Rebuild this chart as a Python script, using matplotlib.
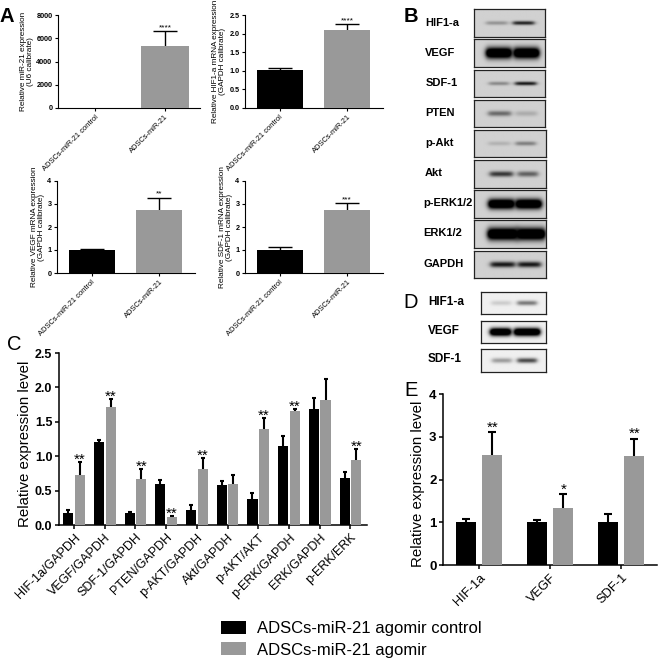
#!/usr/bin/env python3
"""Multi-panel figure: qPCR bars, western blots and blot quantification."""

import numpy as np
import matplotlib
matplotlib.use("Agg")
import matplotlib.pyplot as plt
from matplotlib.patches import Patch

W, H = 658, 659
BLACK = '#000000'
GRAY = '#999999'

# panel A
a_groups = ["ADSCs-miR-21 control", "ADSCs-miR-21"]
a_ylabels = ["Relative miR-21 expression\n(U6 calibrate)",
             "Relative HIF1-a mRNA expression\n(GAPDH calibrate)",
             "Relative VEGF mRNA expression\n(GAPDH calibrate)",
             "Relative SDF-1 mRNA expression\n(GAPDH calibrate)"]
a_values = [[1, 5330], [1.01, 2.11], [1.01, 2.73], [1.01, 2.75]]
a_tops = [[1, 6600], [1.07, 2.26], [1.04, 3.28], [1.11, 3.03]]
a_stars = ["****", "****", "**", "***"]
a_yticks = [[0, 2000, 4000, 6000, 8000],
            [0.0, 0.5, 1.0, 1.5, 2.0, 2.5],
            [0, 1, 2, 3, 4],
            [0, 1, 2, 3, 4]]

# panel C
c_labels = ["HIF-1a/GAPDH", "VEGF/GAPDH", "SDF-1/GAPDH", "PTEN/GAPDH", "p-AKT/GAPDH",
            "Akt/GAPDH", "p-AKT/AKT", "p-ERK/GAPDH", "ERK/GAPDH", "p-ERK/ERK"]
c_control = [0.18, 1.21, 0.17, 0.59, 0.22, 0.58, 0.38, 1.15, 1.69, 0.68]
c_control_top = [0.22, 1.24, 0.19, 0.65, 0.29, 0.64, 0.47, 1.30, 1.84, 0.77]
c_agomir = [0.73, 1.71, 0.67, 0.11, 0.81, 0.59, 1.39, 1.66, 1.82, 0.94]
c_agomir_top = [0.91, 1.83, 0.82, 0.13, 0.98, 0.73, 1.55, 1.68, 2.12, 1.10]
c_stars = ["**", "**", "**", "**", "**", "", "**", "**", "", "**"]

# panel E
e_labels = ["HIF-1a", "VEGF", "SDF-1"]
e_control = [1.0, 1.0, 1.0]
e_control_top = [1.07, 1.05, 1.20]
e_agomir = [2.57, 1.33, 2.55]
e_agomir_top = [3.10, 1.65, 2.95]
e_stars = ["**", "*", "**"]

# blots: label, lane strengths
b_labels = ["HIF1-a", "VEGF", "SDF-1", "PTEN", "p-Akt", "Akt", "p-ERK1/2", "ERK1/2", "GAPDH"]
b_left = [0.30, 1.0, 0.35, 0.50, 0.15, 0.75, 1.0, 1.0, 0.90]
b_right = [0.85, 1.0, 0.90, 0.18, 0.40, 0.55, 1.0, 1.0, 0.90]
d_labels = ["HIF1-a", "VEGF", "SDF-1"]
d_left = [0.15, 1.0, 0.35]
d_right = [0.50, 1.0, 0.70]

plt.rcParams['font.family'] = ['Liberation Sans', 'DejaVu Sans']

fig = plt.figure(figsize=(W / 100, H / 100), dpi=100)


def axes_px(left, top, right, bottom):
    return fig.add_axes([left / W, 1 - bottom / H, (right - left) / W, (bottom - top) / H])


def text_px(x, y, s, **kw):
    fig.text(x / W, 1 - y / H, s, va='center', **kw)


def style_axes(ax, lw, tick_len):
    ax.spines['top'].set_visible(False)
    ax.spines['right'].set_visible(False)
    ax.spines['left'].set_linewidth(lw)
    ax.spines['bottom'].set_linewidth(lw)
    ax.tick_params(width=lw, length=tick_len, pad=1.5)


def bars(ax, x, vals, tops, color, width, lw, cap):
    ax.bar(x, vals, width, color=color, linewidth=0, zorder=3)
    # upper error only, so no cap sits on the bar itself
    for xi, v, t in zip(x, vals, tops):
        if t > v:
            ax.plot([xi, xi], [v, t], color='black', lw=lw, zorder=2, solid_capstyle='butt')
            ax.plot([xi], [t], '_', color='black', ms=cap * 2, mew=lw, zorder=2)


def panel_a(box, i, xlim, pad):
    ax = axes_px(*box)
    x = np.arange(2)
    for k, c in enumerate([BLACK, GRAY]):
        bars(ax, [x[k]], [a_values[i][k]], [a_tops[i][k]], c, 0.68, 1.0, 8.3)
    ax.set_xlim(*xlim)
    ax.set_ylim(a_yticks[i][0], a_yticks[i][-1])
    ax.set_yticks(a_yticks[i])
    if i == 1:
        ax.set_yticklabels([f"{t:.1f}" for t in a_yticks[i]])
    ax.set_xticks(x)
    ax.set_xticklabels(a_groups, rotation=45, ha='right', rotation_mode='anchor', fontsize=5.4)
    ax.tick_params(axis='y', labelsize=5.2)
    for t in ax.get_yticklabels():
        t.set_fontweight('bold')
    ax.set_ylabel(a_ylabels[i], fontsize=5.9, labelpad=pad, linespacing=1.0)
    ax.text(1, a_tops[i][1], a_stars[i], ha='center', va='bottom', fontsize=6, linespacing=1)
    style_axes(ax, 0.8, 2.5)


panel_a((58, 15, 200, 108), 0, (-0.53, 1.5), 2)
panel_a((245, 15, 383, 108), 1, (-0.51, 1.53), 2)
panel_a((57, 181, 195, 273), 2, (-0.51, 1.53), 2)
panel_a((245, 181, 383, 273), 3, (-0.51, 1.53), 2)

# panel C
ax = axes_px(59, 353, 367, 525)
x = np.arange(len(c_labels))
bars(ax, x - 0.19, c_control, c_control_top, BLACK, 0.33, 1.5, 1.5)
bars(ax, x + 0.19, c_agomir, c_agomir_top, GRAY, 0.33, 1.5, 1.5)
for xi, top, s in zip(x, c_agomir_top, c_stars):
    if s:
        ax.text(xi + 0.19, top - 0.07, s, ha='center', va='bottom', fontsize=11)
ax.set_xlim(-0.49, 9.54)
ax.set_ylim(0, 2.5)
ax.set_yticks([0, 0.5, 1.0, 1.5, 2.0, 2.5])
ax.set_yticklabels(["0.0", "0.5", "1.0", "1.5", "2.0", "2.5"], fontsize=9, fontweight='bold')
ax.set_xticks(x)
ax.set_xticklabels(c_labels, rotation=45, ha='right', rotation_mode='anchor', fontsize=9)
ax.set_ylabel("Relative expression level", fontsize=10.8, labelpad=2, y=0.474)
style_axes(ax, 1.1, 3.2)

# panel E
ax = axes_px(443, 394, 657, 565)
x = np.arange(len(e_labels))
bars(ax, x - 0.187, e_control, e_control_top, BLACK, 0.28, 1.5, 3)
bars(ax, x + 0.187, e_agomir, e_agomir_top, GRAY, 0.28, 1.5, 3)
for xi, top, s in zip(x, e_agomir_top, e_stars):
    ax.text(xi + 0.187, top - 0.05, s, ha='center', va='bottom', fontsize=11)
ax.set_xlim(-0.507, 2.507)
ax.set_ylim(0, 4)
ax.set_yticks([0, 1, 2, 3, 4])
ax.set_yticklabels(["0", "1", "2", "3", "4"], fontsize=9.5, fontweight='bold')
ax.set_xticks(x)
ax.set_xticklabels(e_labels, rotation=45, ha='right', rotation_mode='anchor', fontsize=9.3)
ax.set_ylabel("Relative expression level", fontsize=10.8, labelpad=3, y=0.477)
style_axes(ax, 1.1, 3.2)


def blot(box, left, right, lanes, sigma, bg):
    ax = axes_px(*box)
    xx, yy = np.meshgrid(np.linspace(0, 1, 160), np.linspace(0, 1, 60))
    img = np.full(xx.shape, 1.0)
    vert = np.exp(-((yy - 0.5) / sigma) ** 2)
    for s, (c, hw) in zip((left, right), lanes):
        horiz = 1 / (1 + np.exp((np.abs(xx - c) - hw) / 0.02))
        band = np.clip(horiz * vert * (1.6 if s > 0.95 else 1.0), 0, 1)
        img = img * (1 - s * band)
    ax.imshow(img * bg, cmap='gray', vmin=0, vmax=1, extent=(0, 1, 0, 1), aspect='auto',
              interpolation='bilinear')
    ax.set_xticks([])
    ax.set_yticks([])
    for sp in ax.spines.values():
        sp.set_linewidth(0.9)
        sp.set_color('#222222')


b_boxes = [(474, 9, 545, 37), (474, 39, 545, 67), (474, 70, 545, 97), (474, 100, 545, 127),
           (474, 130, 546, 157), (474, 160, 546, 188), (474, 190, 546, 218),
           (474, 220, 546, 248), (474, 251, 546, 278)]
b_lanes = [[(.32, .15), (.70, .15)], [(.35, .18), (.74, .18)], [(.35, .14), (.73, .15)],
           [(.36, .16), (.74, .15)], [(.35, .15), (.72, .14)], [(.38, .16), (.75, .14)],
           [(.38, .18), (.76, .18)], [(.40, .21), (.79, .20)], [(.40, .17), (.77, .16)]]
b_sigma = [.07, .20, .07, .10, .08, .10, .18, .22, .11]
b_label_x = [425, 425, 426, 425, 425, 425, 423, 423, 423]
for i, name in enumerate(b_labels):
    blot(b_boxes[i], b_left[i], b_right[i], b_lanes[i], b_sigma[i], 0.82)
    text_px(b_label_x[i], (b_boxes[i][1] + b_boxes[i][3]) / 2 - 0.5, name,
            fontsize=8, fontweight='bold')

d_boxes = [(481, 292, 546, 314), (481, 321, 546, 343), (481, 349, 546, 372)]
d_lanes = [[(.31, .15), (.71, .15)], [(.30, .16), (.71, .20)], [(.32, .15), (.71, .15)]]
d_sigma = [.11, .18, .11]
for i, name in enumerate(d_labels):
    blot(d_boxes[i], d_left[i], d_right[i], d_lanes[i], d_sigma[i], 0.94)
    text_px(428, (d_boxes[i][1] + d_boxes[i][3]) / 2 - 1.5, name, fontsize=8.5, fontweight='bold')

# panel letters
for letter, px, py, wt in [("A", 0, 16, 'bold'), ("B", 404, 16, 'bold'), ("C", 7, 345, 'normal'),
                           ("D", 403, 303, 'normal'), ("E", 404, 390, 'normal')]:
    text_px(px, py, letter, fontsize=14.5, fontweight=wt)

fig.legend(handles=[Patch(facecolor=BLACK, label="ADSCs-miR-21 agomir control"),
                    Patch(facecolor=GRAY, label="ADSCs-miR-21 agomir")],
           loc='lower left', bbox_to_anchor=(217.7 / W, -2 / H), frameon=False, fontsize=12.0,
           handlelength=1.5, handleheight=0.84, handletextpad=0.65, labelspacing=0.37,
           borderpad=0.2, borderaxespad=0)

fig.savefig("out.png", dpi=100)
